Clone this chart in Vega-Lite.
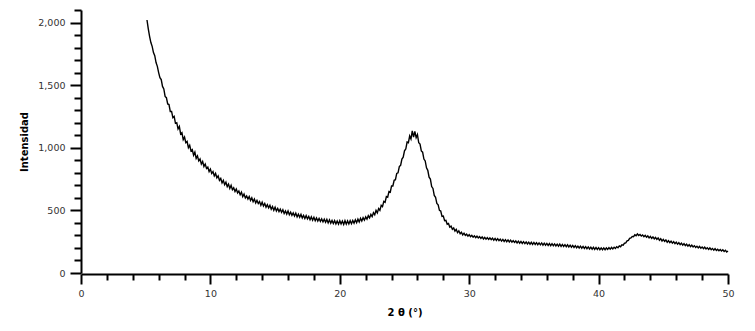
{
  "$schema": "https://vega.github.io/schema/vega-lite/v6.json",
  "width": 647,
  "height": 263,
  "autosize": {"type": "none"},
  "padding": {"left": 81, "top": 10, "right": 27, "bottom": 58},
  "background": "white",
  "config": {"view": {"stroke": null}, "font": "DejaVu Sans"},
  "data": {"values": [
{"x":5.1,"y":2020},{"x":5.2,"y":1950},{"x":5.3,"y":1890},{"x":5.4,"y":1840},{"x":5.5,"y":1810},{"x":5.6,"y":1760},{"x":5.7,"y":1735},{"x":5.8,"y":1680},{"x":5.9,"y":1650},{"x":6.0,"y":1600},
{"x":6.1,"y":1560},{"x":6.2,"y":1545},{"x":6.3,"y":1490},{"x":6.4,"y":1470},{"x":6.5,"y":1410},{"x":6.6,"y":1400},{"x":6.7,"y":1350},{"x":6.8,"y":1345},{"x":6.9,"y":1290},{"x":7.0,"y":1290},
{"x":7.1,"y":1240},{"x":7.2,"y":1250},{"x":7.3,"y":1195},{"x":7.4,"y":1200},{"x":7.5,"y":1150},{"x":7.6,"y":1170},{"x":7.7,"y":1110},{"x":7.8,"y":1120},{"x":7.9,"y":1065},{"x":8.0,"y":1085},
{"x":8.1,"y":1040},{"x":8.2,"y":1050},{"x":8.3,"y":1000},{"x":8.4,"y":1020},{"x":8.5,"y":975},{"x":8.6,"y":985},{"x":8.7,"y":940},{"x":8.8,"y":965},{"x":8.9,"y":915},{"x":9.0,"y":935},
{"x":9.1,"y":895},{"x":9.2,"y":910},{"x":9.3,"y":870},{"x":9.4,"y":890},{"x":9.5,"y":850},{"x":9.6,"y":870},{"x":9.7,"y":835},{"x":9.8,"y":845},{"x":9.9,"y":810},{"x":10.0,"y":830},
{"x":10.1,"y":795},{"x":10.2,"y":810},{"x":10.3,"y":775},{"x":10.4,"y":795},{"x":10.5,"y":760},{"x":10.6,"y":775},{"x":10.7,"y":740},{"x":10.8,"y":755},{"x":10.9,"y":720},{"x":11.0,"y":740},
{"x":11.1,"y":705},{"x":11.2,"y":725},{"x":11.3,"y":690},{"x":11.4,"y":710},{"x":11.5,"y":675},{"x":11.6,"y":700},{"x":11.7,"y":665},{"x":11.8,"y":680},{"x":11.9,"y":650},{"x":12.0,"y":670},
{"x":12.1,"y":640},{"x":12.2,"y":655},{"x":12.3,"y":625},{"x":12.4,"y":645},{"x":12.5,"y":610},{"x":12.6,"y":630},{"x":12.7,"y":600},{"x":12.8,"y":615},{"x":12.9,"y":590},{"x":13.0,"y":610},
{"x":13.1,"y":580},{"x":13.2,"y":600},{"x":13.3,"y":570},{"x":13.4,"y":590},{"x":13.5,"y":560},{"x":13.6,"y":580},{"x":13.7,"y":555},{"x":13.8,"y":570},{"x":13.9,"y":540},{"x":14.0,"y":565},
{"x":14.1,"y":535},{"x":14.2,"y":555},{"x":14.3,"y":525},{"x":14.4,"y":545},{"x":14.5,"y":520},{"x":14.6,"y":540},{"x":14.7,"y":510},{"x":14.8,"y":530},{"x":14.9,"y":500},{"x":15.0,"y":525},
{"x":15.1,"y":495},{"x":15.2,"y":515},{"x":15.3,"y":490},{"x":15.4,"y":510},{"x":15.5,"y":485},{"x":15.6,"y":505},{"x":15.7,"y":475},{"x":15.8,"y":495},{"x":15.9,"y":470},{"x":16.0,"y":495},
{"x":16.1,"y":465},{"x":16.2,"y":485},{"x":16.3,"y":460},{"x":16.4,"y":480},{"x":16.5,"y":455},{"x":16.6,"y":478},{"x":16.7,"y":448},{"x":16.8,"y":470},{"x":16.9,"y":445},{"x":17.0,"y":468},
{"x":17.1,"y":440},{"x":17.2,"y":460},{"x":17.3,"y":435},{"x":17.4,"y":458},{"x":17.5,"y":432},{"x":17.6,"y":452},{"x":17.7,"y":425},{"x":17.8,"y":448},{"x":17.9,"y":422},{"x":18.0,"y":445},
{"x":18.1,"y":418},{"x":18.2,"y":440},{"x":18.3,"y":415},{"x":18.4,"y":436},{"x":18.5,"y":412},{"x":18.6,"y":432},{"x":18.7,"y":408},{"x":18.8,"y":430},{"x":18.9,"y":405},{"x":19.0,"y":428},
{"x":19.1,"y":400},{"x":19.2,"y":425},{"x":19.3,"y":398},{"x":19.4,"y":420},{"x":19.5,"y":395},{"x":19.6,"y":418},{"x":19.7,"y":392},{"x":19.8,"y":415},{"x":19.9,"y":390},{"x":20.0,"y":418},
{"x":20.1,"y":392},{"x":20.2,"y":415},{"x":20.3,"y":388},{"x":20.4,"y":418},{"x":20.5,"y":390},{"x":20.6,"y":416},{"x":20.7,"y":392},{"x":20.8,"y":418},{"x":20.9,"y":394},{"x":21.0,"y":420},
{"x":21.1,"y":398},{"x":21.2,"y":425},{"x":21.3,"y":402},{"x":21.4,"y":430},{"x":21.5,"y":408},{"x":21.6,"y":436},{"x":21.7,"y":415},{"x":21.8,"y":442},{"x":21.9,"y":422},{"x":22.0,"y":448},
{"x":22.1,"y":430},{"x":22.2,"y":458},{"x":22.3,"y":440},{"x":22.4,"y":468},{"x":22.5,"y":450},{"x":22.6,"y":482},{"x":22.7,"y":465},{"x":22.8,"y":500},{"x":22.9,"y":480},{"x":23.0,"y":515},
{"x":23.1,"y":500},{"x":23.2,"y":540},{"x":23.3,"y":530},{"x":23.4,"y":572},{"x":23.5,"y":565},{"x":23.6,"y":610},{"x":23.7,"y":605},{"x":23.8,"y":650},{"x":23.9,"y":645},{"x":24.0,"y":695},
{"x":24.1,"y":695},{"x":24.2,"y":740},{"x":24.3,"y":745},{"x":24.4,"y":795},{"x":24.5,"y":800},{"x":24.6,"y":850},{"x":24.7,"y":860},{"x":24.8,"y":910},{"x":24.9,"y":925},{"x":25.0,"y":975},
{"x":25.1,"y":990},{"x":25.2,"y":1045},{"x":25.3,"y":1040},{"x":25.4,"y":1095},{"x":25.5,"y":1070},{"x":25.6,"y":1135},{"x":25.7,"y":1085},{"x":25.8,"y":1130},{"x":25.9,"y":1080},{"x":26.0,"y":1105},
{"x":26.1,"y":1040},{"x":26.2,"y":1030},{"x":26.3,"y":975},{"x":26.4,"y":965},{"x":26.5,"y":910},{"x":26.6,"y":895},{"x":26.7,"y":840},{"x":26.8,"y":820},{"x":26.9,"y":765},{"x":27.0,"y":750},
{"x":27.1,"y":690},{"x":27.2,"y":675},{"x":27.3,"y":620},{"x":27.4,"y":605},{"x":27.5,"y":555},{"x":27.6,"y":545},{"x":27.7,"y":500},{"x":27.8,"y":495},{"x":27.9,"y":452},{"x":28.0,"y":455},
{"x":28.1,"y":418},{"x":28.2,"y":420},{"x":28.3,"y":390},{"x":28.4,"y":395},{"x":28.5,"y":366},{"x":28.6,"y":374},{"x":28.7,"y":350},{"x":28.8,"y":360},{"x":28.9,"y":335},{"x":29.0,"y":348},
{"x":29.1,"y":322},{"x":29.2,"y":336},{"x":29.3,"y":314},{"x":29.4,"y":326},{"x":29.5,"y":304},{"x":29.6,"y":318},{"x":29.7,"y":300},{"x":29.8,"y":310},{"x":29.9,"y":294},{"x":30.0,"y":306},
{"x":30.1,"y":290},{"x":30.2,"y":300},{"x":30.3,"y":286},{"x":30.4,"y":296},{"x":30.5,"y":282},{"x":30.6,"y":294},{"x":30.7,"y":280},{"x":30.8,"y":290},{"x":30.9,"y":276},{"x":31.0,"y":288},
{"x":31.1,"y":272},{"x":31.2,"y":285},{"x":31.3,"y":270},{"x":31.4,"y":282},{"x":31.5,"y":268},{"x":31.6,"y":280},{"x":31.7,"y":266},{"x":31.8,"y":278},{"x":31.9,"y":262},{"x":32.0,"y":276},
{"x":32.1,"y":260},{"x":32.2,"y":274},{"x":32.3,"y":258},{"x":32.4,"y":270},{"x":32.5,"y":255},{"x":32.6,"y":268},{"x":32.7,"y":252},{"x":32.8,"y":266},{"x":32.9,"y":250},{"x":33.0,"y":264},
{"x":33.1,"y":248},{"x":33.2,"y":262},{"x":33.3,"y":246},{"x":33.4,"y":258},{"x":33.5,"y":244},{"x":33.6,"y":256},{"x":33.7,"y":240},{"x":33.8,"y":254},{"x":33.9,"y":238},{"x":34.0,"y":252},
{"x":34.1,"y":236},{"x":34.2,"y":250},{"x":34.3,"y":235},{"x":34.4,"y":248},{"x":34.5,"y":232},{"x":34.6,"y":246},{"x":34.7,"y":230},{"x":34.8,"y":245},{"x":34.9,"y":228},{"x":35.0,"y":244},
{"x":35.1,"y":228},{"x":35.2,"y":242},{"x":35.3,"y":226},{"x":35.4,"y":240},{"x":35.5,"y":225},{"x":35.6,"y":240},{"x":35.7,"y":222},{"x":35.8,"y":238},{"x":35.9,"y":222},{"x":36.0,"y":236},
{"x":36.1,"y":220},{"x":36.2,"y":235},{"x":36.3,"y":218},{"x":36.4,"y":234},{"x":36.5,"y":218},{"x":36.6,"y":232},{"x":36.7,"y":216},{"x":36.8,"y":230},{"x":36.9,"y":214},{"x":37.0,"y":230},
{"x":37.1,"y":212},{"x":37.2,"y":228},{"x":37.3,"y":212},{"x":37.4,"y":226},{"x":37.5,"y":210},{"x":37.6,"y":225},{"x":37.7,"y":208},{"x":37.8,"y":222},{"x":37.9,"y":206},{"x":38.0,"y":220},
{"x":38.1,"y":204},{"x":38.2,"y":218},{"x":38.3,"y":202},{"x":38.4,"y":215},{"x":38.5,"y":200},{"x":38.6,"y":214},{"x":38.7,"y":198},{"x":38.8,"y":212},{"x":38.9,"y":196},{"x":39.0,"y":210},
{"x":39.1,"y":194},{"x":39.2,"y":208},{"x":39.3,"y":192},{"x":39.4,"y":206},{"x":39.5,"y":190},{"x":39.6,"y":205},{"x":39.7,"y":188},{"x":39.8,"y":204},{"x":39.9,"y":188},{"x":40.0,"y":202},
{"x":40.1,"y":186},{"x":40.2,"y":200},{"x":40.3,"y":186},{"x":40.4,"y":200},{"x":40.5,"y":186},{"x":40.6,"y":200},{"x":40.7,"y":188},{"x":40.8,"y":202},{"x":40.9,"y":190},{"x":41.0,"y":204},
{"x":41.1,"y":192},{"x":41.2,"y":206},{"x":41.3,"y":196},{"x":41.4,"y":210},{"x":41.5,"y":202},{"x":41.6,"y":216},{"x":41.7,"y":210},{"x":41.8,"y":225},{"x":41.9,"y":222},{"x":42.0,"y":238},
{"x":42.1,"y":240},{"x":42.2,"y":256},{"x":42.3,"y":260},{"x":42.4,"y":276},{"x":42.5,"y":280},{"x":42.6,"y":292},{"x":42.7,"y":290},{"x":42.8,"y":305},{"x":42.9,"y":298},{"x":43.0,"y":312},
{"x":43.1,"y":300},{"x":43.2,"y":308},{"x":43.3,"y":296},{"x":43.4,"y":304},{"x":43.5,"y":290},{"x":43.6,"y":300},{"x":43.7,"y":286},{"x":43.8,"y":296},{"x":43.9,"y":280},{"x":44.0,"y":292},
{"x":44.1,"y":276},{"x":44.2,"y":288},{"x":44.3,"y":272},{"x":44.4,"y":284},{"x":44.5,"y":268},{"x":44.6,"y":280},{"x":44.7,"y":262},{"x":44.8,"y":274},{"x":44.9,"y":256},{"x":45.0,"y":268},
{"x":45.1,"y":252},{"x":45.2,"y":264},{"x":45.3,"y":246},{"x":45.4,"y":258},{"x":45.5,"y":242},{"x":45.6,"y":254},{"x":45.7,"y":238},{"x":45.8,"y":250},{"x":45.9,"y":234},{"x":46.0,"y":246},
{"x":46.1,"y":230},{"x":46.2,"y":242},{"x":46.3,"y":226},{"x":46.4,"y":238},{"x":46.5,"y":222},{"x":46.6,"y":234},{"x":46.7,"y":218},{"x":46.8,"y":230},{"x":46.9,"y":214},{"x":47.0,"y":226},
{"x":47.1,"y":210},{"x":47.2,"y":222},{"x":47.3,"y":208},{"x":47.4,"y":218},{"x":47.5,"y":204},{"x":47.6,"y":214},{"x":47.7,"y":200},{"x":47.8,"y":212},{"x":47.9,"y":198},{"x":48.0,"y":208},
{"x":48.1,"y":194},{"x":48.2,"y":206},{"x":48.3,"y":192},{"x":48.4,"y":202},{"x":48.5,"y":188},{"x":48.6,"y":200},{"x":48.7,"y":186},{"x":48.8,"y":196},{"x":48.9,"y":182},{"x":49.0,"y":194},
{"x":49.1,"y":180},{"x":49.2,"y":190},{"x":49.3,"y":178},{"x":49.4,"y":188},{"x":49.5,"y":176},{"x":49.6,"y":185},{"x":49.7,"y":172},{"x":49.8,"y":182},{"x":49.9,"y":168},{"x":50.0,"y":176}
  ]},
  "mark": {"type": "line", "color": "black", "strokeWidth": 1.4},
  "encoding": {
    "x": {
      "field": "x", "type": "quantitative",
      "scale": {"domain": [0, 50], "nice": false, "zero": false},
      "axis": {
        "title": "2 θ (°)",
        "values": [0,2,4,6,8,10,12,14,16,18,20,22,24,26,28,30,32,34,36,38,40,42,44,46,48,50],
        "labelExpr": "datum.value % 10 === 0 ? datum.label : ''",
        "grid": false,
        "offset": 1,
        "domainColor": "black", "domainWidth": 2,
        "tickColor": "black", "tickWidth": 2,
        "tickSize": {"condition": {"test": "datum.value % 10 === 0", "value": 10}, "value": 6},
        "labelFontSize": 9.5, "labelColor": "#333", "labelPadding": 4,
        "labelFlush": false,
        "titleFontSize": 10, "titleFontWeight": "bold", "titleColor": "black", "titlePadding": 10
      }
    },
    "y": {
      "field": "y", "type": "quantitative",
      "scale": {"domain": [0, 2100], "nice": false},
      "axis": {
        "title": "Intensidad",
        "values": [0,100,200,300,400,500,600,700,800,900,1000,1100,1200,1300,1400,1500,1600,1700,1800,1900,2000,2100],
        "labelExpr": "datum.value % 500 === 0 ? format(datum.value, ',') : ''",
        "grid": false,
        "domainColor": "black", "domainWidth": 2,
        "tickColor": "black", "tickWidth": 2,
        "tickSize": {"condition": {"test": "datum.value % 500 === 0", "value": 11}, "value": 7},
        "labelFontSize": 9.5, "labelColor": "#333", "labelPadding": 5,
        "labelFlush": false,
        "titleFontSize": 10, "titleFontWeight": "bold", "titleColor": "black", "titlePadding": 8
      }
    }
  }
}
